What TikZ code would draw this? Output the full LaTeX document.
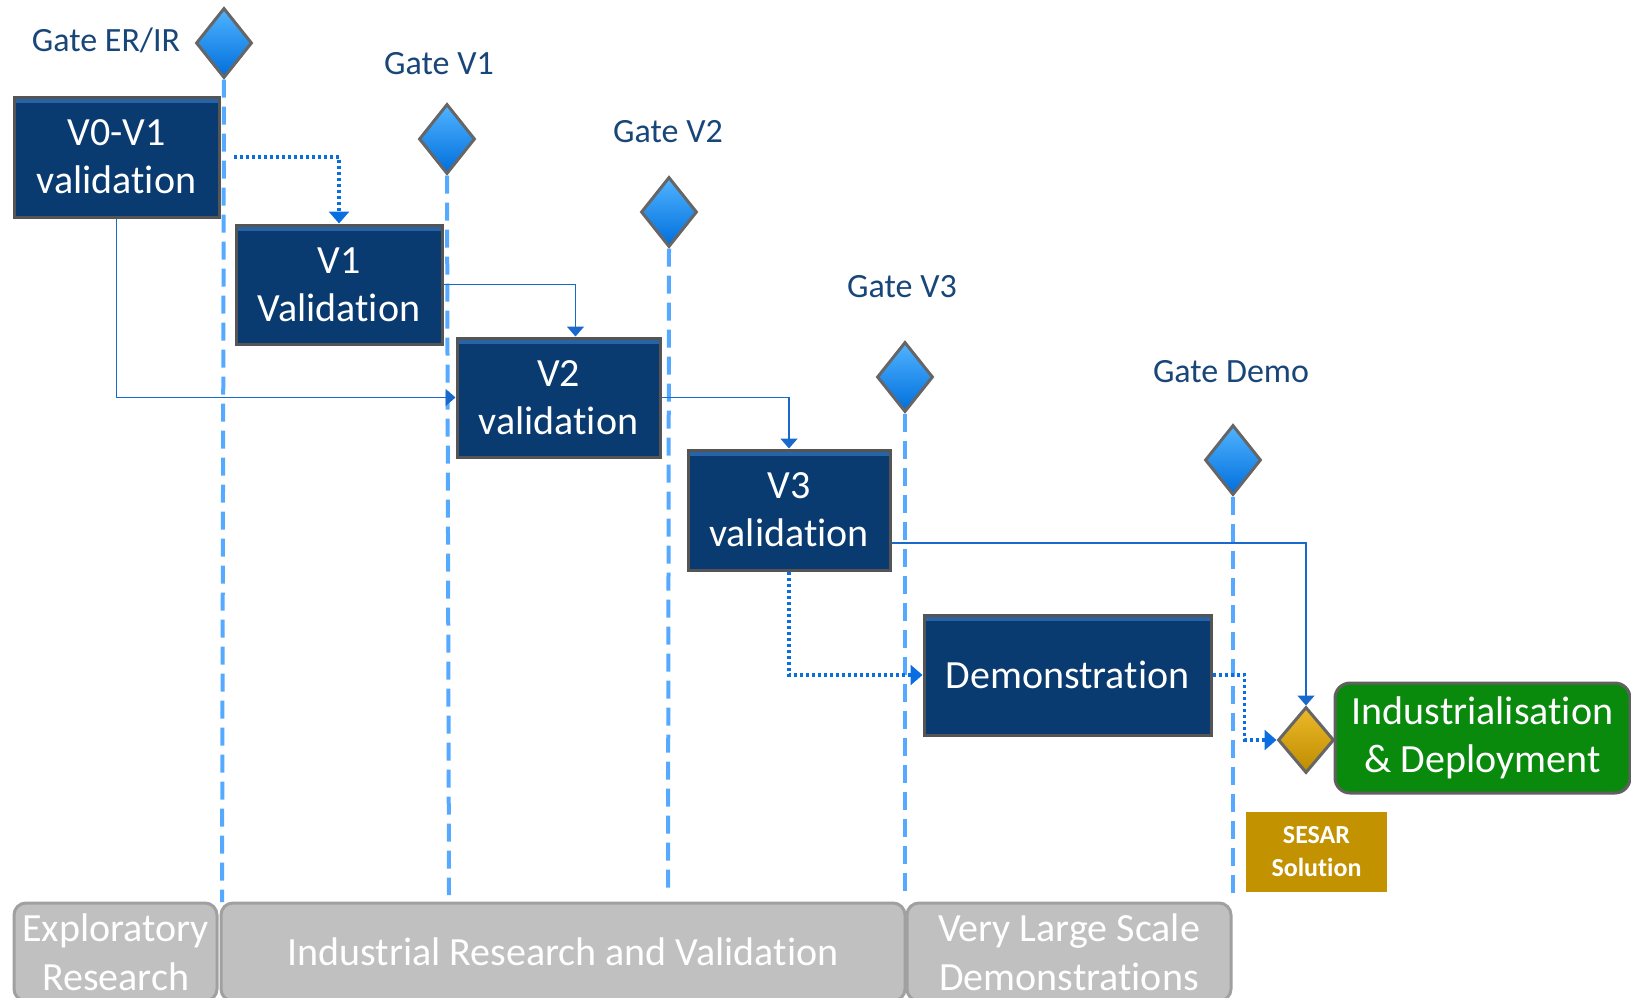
\documentclass[tikz,border=0pt]{standalone}
\usepackage{fontspec}
\setmainfont{Carlito}[RawFeature={-liga;-clig;-rlig;-dlig;-calt;-hlig}]
\usetikzlibrary{shapes.geometric,arrows.meta,calc}
\definecolor{navy}{RGB}{9,58,112}
\definecolor{navylight}{RGB}{40,100,165}
\definecolor{boxborder}{RGB}{85,85,85}
\definecolor{linkblue}{RGB}{25,105,205}
\definecolor{dotblue}{RGB}{10,110,225}
\definecolor{gateline}{RGB}{85,170,255}
\definecolor{gatetext}{RGB}{25,70,120}
\definecolor{diatop}{RGB}{80,180,255}
\definecolor{diabot}{RGB}{0,110,220}
\definecolor{goldtop}{RGB}{235,185,40}
\definecolor{goldbot}{RGB}{190,140,0}
\definecolor{indgreen}{RGB}{10,138,12}
\definecolor{sesargold}{RGB}{195,146,0}
\definecolor{barfill}{RGB}{192,192,192}
\definecolor{barborder}{RGB}{160,160,160}
\begin{document}
\begin{tikzpicture}[x=1pt,y=-1pt,
  stagebox/.style={rectangle, fill=navy, draw=boxborder, line width=3pt,
    text=white, align=center, inner sep=0pt,
    font=\fontsize{40}{48}\selectfont,
    path picture={\fill[navylight] ([yshift=-2pt]path picture bounding box.north west) rectangle ([yshift=-6pt]path picture bounding box.north east);}},
  gate/.style={diamond, shape aspect=1, inner sep=0pt, minimum width=56pt, minimum height=70pt,
    top color=diatop, bottom color=diabot, draw=gray!80!black, line width=3pt},
  gatelabel/.style={text=gatetext, font=\fontsize{34}{40}\selectfont, inner sep=0pt},
  gateline/.style={draw=gateline, line width=4pt, dash pattern=on 18pt off 9pt},
  solidlink/.style={draw=linkblue, line width=1.8pt, -{Triangle[length=10pt,width=17pt]}},
  dotlink/.style={draw=dotblue, line width=3.2pt, dash pattern=on 3pt off 3pt, -{Triangle[length=12pt,width=20pt]}},
  bar/.style={rectangle, rounded corners=12pt, fill=barfill, draw=barborder, line width=3pt,
    text=white, align=center, inner sep=0pt, font=\fontsize{40}{49}\selectfont}
]
\useasboundingbox (0,0) rectangle (1631,997);

% phase bars
\node[bar, minimum width=203pt, minimum height=98pt] (er) at (115.5,952) {Exploratory\\Research};
\node[bar, minimum width=684pt, minimum height=98pt] (ir) at (563,952) {Industrial Research and Validation};
\node[bar, minimum width=324pt, minimum height=98pt] (vls) at (1069,952) {Very Large Scale\\Demonstrations};

% gate diamonds
\node[gate] (gerir) at (224,43) {};
\node[gate] (gv1) at (447,139) {};
\node[gate] (gv2) at (669,212) {};
\node[gate] (gv3) at (905,377) {};
\node[gate] (gdemo) at (1233,460) {};

% gate labels
\node[gatelabel] (lerir) at (106,40) {Gate ER/IR};
\node[gatelabel] (lv1) at (439,64) {Gate V1};
\node[gatelabel] (lv2) at (668,132) {Gate V2};
\node[gatelabel] (lv3) at (902,287) {Gate V3};
\node[gatelabel] (ldemo) at (1231,372) {Gate Demo};

% gate lines
\coordinate (eerir) at (222,902);
\coordinate (ev1) at (449,895);
\coordinate (ev2) at (668,895);
\coordinate (ev3) at (905,897);
\coordinate (edemo) at (1233,897);
\draw[gateline] (gerir.south) -- (eerir);
\draw[gateline] (gv1.south) -- (ev1);
\draw[gateline] (gv2.south) -- (ev2);
\draw[gateline] (gv3.south) -- (ev3);
\draw[gateline] (gdemo.south) -- (edemo);

% stage boxes
\node[stagebox, minimum width=205pt, minimum height=120pt] (v01) at (116.5,157) {V0-V1\\validation};
\node[stagebox, minimum width=206pt, minimum height=119pt] (v1) at (339,284.5) {V1\\Validation};
\node[stagebox, minimum width=203pt, minimum height=119pt] (v2) at (558.5,397.5) {V2\\validation};
\node[stagebox, minimum width=202pt, minimum height=120pt] (v3) at (789,510) {V3\\validation};
\node[stagebox, minimum width=287pt, minimum height=120pt] (demo) at (1067.5,675) {Demonstration};

% gold diamond, industrialisation, SESAR
\node[diamond, shape aspect=1, inner sep=0pt, minimum width=56pt, minimum height=66pt,
  top color=goldtop, bottom color=goldbot, draw=gray!80!black, line width=3pt] (gold) at (1306,740) {};
\node[rectangle, rounded corners=15pt, fill=indgreen, draw=gray!75!black, line width=3pt,
  minimum width=295pt, minimum height=110pt, text=white, align=center, inner sep=0pt,
  font=\fontsize{40}{48}\selectfont] (ind) at (1482.5,738) {Industrialisation\\\& Deployment};
\node[rectangle, fill=sesargold, minimum width=141pt, minimum height=80pt, text=white,
  align=center, inner sep=0pt, font=\bfseries\fontsize{26}{33}\selectfont] (sesar) at (1316.5,852) {SESAR\\Solution};

% connectors
\draw[dotlink] ($(v01.east)+(13,0)$) -| (v1.north);
\draw[solidlink] (v1.east) -| ($(v2.north)+(17,0)$);
\draw[solidlink] (v01.south) |- (v2.west);
\draw[solidlink] (v2.east) -| (v3.north);
\draw[solidlink] ($(v3.east)+(0,33)$) -| (gold.north);
\draw[dotlink] (v3.south) |- (demo.west);
\coordinate (dturn) at ($(demo.east)+(32,0)$);
\draw[dotlink] (demo.east) -- (dturn) |- (gold.west);
\end{tikzpicture}
\end{document}
